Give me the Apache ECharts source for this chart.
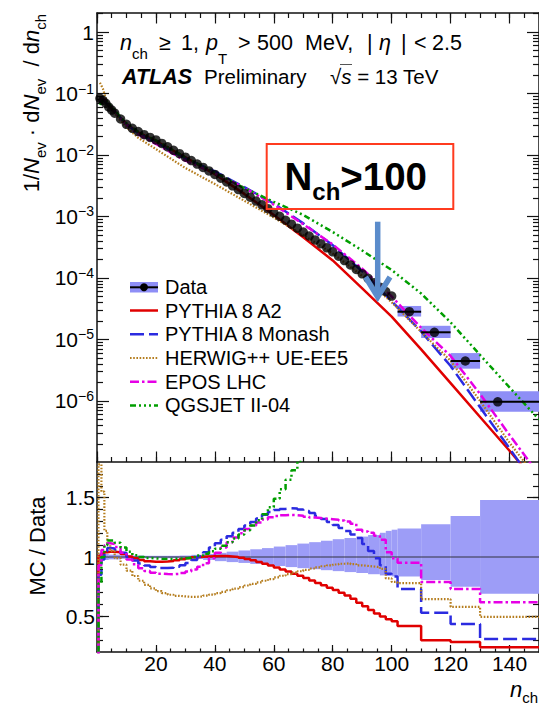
<!DOCTYPE html>
<html><head><meta charset="utf-8">
<script src="https://cdn.jsdelivr.net/npm/echarts@6/dist/echarts.min.js"></script>
<style>html,body{margin:0;padding:0;background:#fff}#c{width:539px;height:710px}</style>
</head><body><div id="c"></div>
<script>
const FONT = "'Liberation Sans', Arial, Helvetica, sans-serif";

// ---------------- DATA ----------------
// Data points (n_ch, 1/Nev dNev/dnch)
const dataN = [1,2,3,4,5,6,8,10,12,14,16,18,20,22,24,26,28,30,32,34,36,38,40,42,44,46,48,50,
  52,54,56,58,60,62,64,66,68,70,72,74,76,78,80,82,84,86,88,90,92,94,96,98,100,106,114.5,125,136];
const dataV = [0.0836,0.0776,0.0692,0.0603,0.0537,0.0479,0.0385,0.0316,0.0272,0.0240,0.0214,0.0193,0.0176,
  0.01545,0.01358,0.01194,0.0105,0.00923,0.00811,0.00713,0.00627,0.00551,0.00484,0.0042,0.00364,0.00316,
  0.00274,0.00237,0.00206,0.00178,0.00155,0.00134,0.00116,0.001007,8.69e-4,7.5e-4,6.47e-4,5.58e-4,4.82e-4,
  4.16e-4,3.59e-4,3.1e-4,2.67e-4,2.26e-4,1.92e-4,1.63e-4,1.38e-4,1.17e-4,9.89e-5,8.38e-5,7.1e-5,6.01e-5,
  5.09e-5,2.83e-5,1.31e-5,4.47e-6,9.7e-7];
// wide data bins (drawn with uncertainty boxes)
const boxN  = [106,114.5,125,136];
const boxLo = [102,110,120,130];
const boxHi = [110,120,130,150];

// MC predictions in the upper panel
const mcN = [1,2,3,4,6,8,10,14,20,30,40,50,60,70,80,90,100,110,120,130,140,150];
const mcA2     = [0.0843,0.080,0.0723,0.063,0.050,0.0396,0.0319,0.0234,0.01687,0.00914,0.00488,0.00233,0.00106,4.6e-4,1.93e-4,6.8e-5,2.35e-5,6.9e-6,1.95e-6,5.5e-7,1.55e-7,4.2e-8];
const mcMonash = [0.071,0.0776,0.0726,0.0647,0.0509,0.0396,0.0315,0.0225,0.0160,0.00877,0.0054,0.0030,0.00162,7.74e-4,3.4e-4,1.29e-4,4.2e-5,1.35e-5,3.7e-6,7.9e-7,1.7e-7,3.5e-8];
const mcHerwig = [0.15,0.12,0.083,0.0662,0.0479,0.0361,0.0282,0.019,0.01247,0.00614,0.00337,0.0018,9.6e-4,4.98e-4,2.5e-4,1.08e-4,4.03e-5,1.33e-5,4.5e-6,1.0e-6,2.1e-7,5e-8];
const mcEpos   = [0.0777,0.0822,0.076,0.0671,0.0521,0.0396,0.0308,0.0216,0.0151,0.00809,0.00501,0.00293,0.00156,7.48e-4,3.51e-4,1.42e-4,5.0e-5,1.55e-5,5.4e-6,1.3e-6,2.8e-7,6.3e-8];
const mcQgsjet = [0.0652,0.0776,0.0774,0.0687,0.0536,0.0411,0.0329,0.0239,0.0173,0.00916,0.00518,0.0029,0.00173,1.06e-3,5.6e-4,2.8e-4,1.35e-4,5.6e-5,1.9e-5,5.6e-6,1.66e-6,5.0e-7];

// Ratio panel: bin low edges (last entry closes the last bin)
const ratioX = [0.5,1.5,2.5,3.5,4.5,6,8,10,12,14,16,18,20,22,24,26,28,30,32,34,36,38,40,42,44,46,48,50,
  52,54,56,58,60,62,64,66,68,70,72,74,76,78,80,82,84,86,88,90,92,94,96,98,100,102,110,120,130,150];
const rA2 = [1.01,1.03,1.04,1.045,1.045,1.04,1.025,1.005,0.99,0.975,0.965,0.96,0.96,0.962,0.966,0.973,0.982,0.99,
  0.997,1.002,1.005,1.007,1.008,1.008,1.005,1.0,0.993,0.984,0.972,0.958,0.943,0.928,0.912,0.895,0.877,0.86,
  0.842,0.823,0.803,0.782,0.762,0.742,0.722,0.70,0.676,0.648,0.615,0.585,0.553,0.525,0.50,0.475,0.46,0.42,
  0.30,0.285,0.24,0.24];
const rMonash = [0.85,0.98,1.05,1.075,1.072,1.06,1.035,1.0,0.97,0.945,0.928,0.915,0.908,0.907,0.91,0.918,0.93,
  0.95,0.975,1.005,1.04,1.08,1.115,1.145,1.175,1.205,1.235,1.265,1.295,1.325,1.355,1.38,1.395,1.405,1.41,
  1.408,1.40,1.388,1.37,1.345,1.32,1.295,1.27,1.245,1.22,1.19,1.16,1.11,1.05,0.99,0.93,0.86,0.835,0.73,
  0.53,0.435,0.31,0.31];
const rHerwig = [1.78,1.55,1.22,1.12,1.05,0.99,0.935,0.885,0.84,0.80,0.765,0.735,0.712,0.695,0.682,0.673,0.668,
  0.665,0.665,0.668,0.675,0.684,0.695,0.707,0.72,0.733,0.746,0.76,0.773,0.786,0.80,0.814,0.828,0.842,0.855,
  0.868,0.88,0.892,0.903,0.913,0.922,0.93,0.937,0.943,0.947,0.94,0.93,0.925,0.92,0.915,0.90,0.82,0.79,0.78,
  0.645,0.58,0.495,0.495];
const rEpos = [0.93,1.06,1.10,1.115,1.11,1.085,1.035,0.98,0.94,0.905,0.883,0.868,0.86,0.856,0.855,0.858,0.865,
  0.877,0.895,0.918,0.948,0.99,1.035,1.08,1.125,1.165,1.20,1.235,1.265,1.29,1.315,1.335,1.345,1.352,1.354,
  1.352,1.347,1.34,1.333,1.328,1.323,1.318,1.313,1.307,1.30,1.28,1.23,1.215,1.205,1.18,1.145,1.04,0.99,0.952,
  0.79,0.73,0.62,0.62];
const rQgsjet = [0.78,1.0,1.10,1.14,1.14,1.12,1.08,1.045,1.015,1.0,0.992,0.988,0.985,0.984,0.984,0.985,0.988,
  0.993,1.0,1.012,1.028,1.048,1.07,1.095,1.125,1.155,1.19,1.225,1.265,1.31,1.36,1.42,1.49,1.57,1.65,1.73,
  1.81,1.9,2.0,2.1];

// Data uncertainty band (relative), bin edges
const bandX = [0.5,2,4,8,12,16,20,24,28,32,36,40,44,48,52,56,60,64,68,72,76,80,84,88,92,96,98,100,102,110,120,130,150];
const bandUp = [1.03,1.025,1.02,1.015,1.012,1.01,1.01,1.01,1.012,1.018,1.026,1.035,1.045,1.055,1.065,1.075,
  1.088,1.10,1.113,1.125,1.137,1.15,1.16,1.172,1.185,1.204,1.22,1.23,1.24,1.275,1.345,1.48];
const bandDn = [0.97,0.975,0.98,0.985,0.988,0.99,0.99,0.99,0.988,0.983,0.975,0.965,0.957,0.95,0.942,0.933,
  0.924,0.915,0.906,0.897,0.889,0.881,0.873,0.865,0.855,0.845,0.84,0.837,0.835,0.807,0.75,0.69];

// Tick labels
const xTickLabels = [20,40,60,80,100,120,140];
const xMajorTicks = [0,20,40,60,80,100,120,140];
const yTopExps = [-6,-5,-4,-3,-2,-1,0];
const ratioTickLabels = [0.5,1,1.5];
const legendNames = ['Data','PYTHIA 8 A2','PYTHIA 8 Monash','HERWIG++ UE-EE5','EPOS LHC','QGSJET II-04'];

// ---------------- STYLES ----------------
const C_RED='#e00000', C_BLUE='#2b2be0', C_BROWN='#b57d1e', C_MAG='#e600e6', C_GREEN='#009e00';
const BOX_COL='#8e8ef6', BAND_COL='#9d9df7';
const styles = [
  {color:C_RED, width:2.5, type:'solid'},
  {color:C_BLUE, width:2.5, type:[14,5]},
  {color:C_BROWN, width:2.2, type:[1.6,1.6]},
  {color:C_MAG, width:2.5, type:[9,3,2.5,3]},
  {color:C_GREEN, width:2.5, type:[6,3,2,3,2,3,2,3]}
];

const Y0MIN=-6.992, Y0MAX=0.309, RMIN=0.2, RMAX=1.8;
const LC='#111';

const xMinor=[]; for(let v=0; v<=150; v+=5) xMinor.push(v);
const yMinor=[]; for(let e=-7;e<=0;e++) for(let k=2;k<=9;k++){const v=e+Math.log10(k); if(v>Y0MIN&&v<Y0MAX) yMinor.push(v);}
const rMinor=[]; for(let k=3;k<=17;k++) rMinor.push(k/10);

const xAxis=[], yAxis=[];
function addX(g,pos,ticks,len,line,labels){
  xAxis.push({type:'value',gridIndex:g,position:pos,min:0,max:150,
    axisLine:{show:line,onZero:false,lineStyle:{color:LC,width:1.5}},
    axisTick:{show:true,inside:true,length:len,customValues:ticks,lineStyle:{color:LC,width:1.2}},
    axisLabel:labels?{show:true,customValues:labels,margin:1,fontSize:21,fontFamily:FONT,color:'#000'}:{show:false},
    splitLine:{show:false}});
}
function addY(g,pos,min,max,ticks,len,line,label){
  yAxis.push({type:'value',gridIndex:g,position:pos,min:min,max:max,
    axisLine:{show:line,onZero:false,lineStyle:{color:LC,width:1.5}},
    axisTick:{show:true,inside:true,length:len,customValues:ticks,lineStyle:{color:LC,width:1.2}},
    axisLabel:label||{show:false},splitLine:{show:false}});
}
addX(0,'bottom',xMajorTicks,10.5,true);
addX(0,'bottom',xMinor,5,false);
addX(0,'top',xMajorTicks,10.5,true);
addX(0,'top',xMinor,5,false);
addX(1,'bottom',xMajorTicks,7,true,xTickLabels);
addX(1,'bottom',xMinor,3.5,false);

addY(0,'left',Y0MIN,Y0MAX,yTopExps,12,true,{show:true,customValues:yTopExps,margin:3,fontSize:21,fontFamily:FONT,color:'#000',lineHeight:24,
  formatter:v=>{const k=Math.round(v); return k===0?'1':'10{sup|\u2212'+(-k)+'}';},
  rich:{sup:{fontSize:14,fontFamily:FONT,verticalAlign:'top',lineHeight:14,color:'#000'}}});
addY(0,'left',Y0MIN,Y0MAX,yMinor,6,false);
addY(0,'right',Y0MIN,Y0MAX,yTopExps,12,true);
addY(0,'right',Y0MIN,Y0MAX,yMinor,6,false);
addY(1,'left',RMIN,RMAX,ratioTickLabels,12,true,{show:true,customValues:ratioTickLabels,margin:2,fontSize:21,fontFamily:FONT,color:'#000',
  formatter:v=>String(v)});
addY(1,'left',RMIN,RMAX,rMinor,6,false);
addY(1,'right',RMIN,RMAX,ratioTickLabels,12,true);
addY(1,'right',RMIN,RMAX,rMinor,6,false);

// ---------------- SERIES ----------------
const L10=Math.log10;
function rectRender(fill){
  return function(params,api){
    const a=api.coord([api.value(0),api.value(2)]);
    const b=api.coord([api.value(1),api.value(3)]);
    const cs=params.coordSys;
    const r=echarts.graphic.clipRectByRect({x:a[0],y:a[1],width:b[0]-a[0],height:b[1]-a[1]},{x:cs.x,y:cs.y,width:cs.width,height:cs.height});
    if(!r) return;
    return {type:'rect',shape:r,style:{fill:fill}};
  };
}
const topBoxes = boxLo.map((lo,i)=>{
  const j=bandX.indexOf(lo); const v=dataV[dataN.indexOf(boxN[i])];
  return [lo,boxHi[i],L10(v*bandUp[j]),L10(v*bandDn[j]),L10(v)];
});
const series=[];
series.push({type:'custom',xAxisIndex:0,yAxisIndex:0,renderItem:rectRender(BOX_COL),data:topBoxes,encode:{x:[0,1],y:[2,3]},z:2,silent:true});
const mcTop=[mcA2,mcMonash,mcHerwig,mcEpos,mcQgsjet];
mcTop.forEach((arr,k)=>{
  series.push({type:'line',xAxisIndex:0,yAxisIndex:0,data:mcN.map((n,i)=>[n,L10(arr[i])]),smooth:false,
    showSymbol:false,symbol:'none',lineStyle:styles[k],z:3,silent:true,clip:true});
});
series.push({type:'scatter',xAxisIndex:0,yAxisIndex:0,data:dataN.map((n,i)=>[n,L10(dataV[i])]),symbol:'circle',symbolSize:9.5,
  itemStyle:{color:'#000'},z:5,silent:true});
series.push({type:'custom',xAxisIndex:0,yAxisIndex:0,data:topBoxes,encode:{x:[0,1],y:[4]},z:5,silent:true,
  renderItem:(params,api)=>{
    const cs=params.coordSys;
    const a=api.coord([api.value(0),api.value(4)]), b=api.coord([api.value(1),api.value(4)]);
    return {type:'line',shape:{x1:Math.max(a[0],cs.x),y1:a[1],x2:Math.min(b[0],cs.x+cs.width),y2:b[1]},style:{stroke:'#000',lineWidth:2}};
  }});
// ratio panel
series.push({type:'custom',xAxisIndex:4,yAxisIndex:4,renderItem:rectRender(BAND_COL),
  data:bandUp.map((u,i)=>[bandX[i],bandX[i+1],u,bandDn[i]]),encode:{x:[0,1],y:[2,3]},z:2,silent:true});
series.push({type:'line',xAxisIndex:4,yAxisIndex:4,data:[[0,1],[150,1]],showSymbol:false,symbol:'none',
  lineStyle:{color:'#333340',width:1.2},z:3,silent:true});
const rAll=[rA2,rMonash,rHerwig,rEpos,rQgsjet];
rAll.forEach((arr,k)=>{
  const d=[[ratioX[0],0]].concat(arr.map((v,i)=>[ratioX[i],v]));
  series.push({type:'line',xAxisIndex:4,yAxisIndex:4,data:d,step:'end',showSymbol:false,symbol:'none',
    lineStyle:styles[k],z:4,silent:true,clip:true});
});

// ---------------- GRAPHIC ----------------
const g=[];
const legY=[287,310.5,334.2,358,381.7,405.4];
g.push({type:'rect',shape:{x:130,y:282,width:28,height:10.5},style:{fill:BOX_COL}});
g.push({type:'line',shape:{x1:130,y1:287.3,x2:158,y2:287.3},style:{stroke:'#000',lineWidth:2}});
g.push({type:'circle',shape:{cx:144,cy:287.3,r:4},style:{fill:'#000'}});
styles.forEach((s,k)=>{
  g.push({type:'line',shape:{x1:130,y1:legY[k+1],x2:158,y2:legY[k+1]},
    style:{stroke:s.color,lineWidth:s.width,lineDash:s.type==='solid'?null:s.type}});
});
legendNames.forEach((t,k)=>{
  g.push({type:'text',x:165,y:legY[k],style:{text:t,fontSize:20,fontFamily:FONT,fill:'#000',align:'left',verticalAlign:'middle'}});
});
// header line 1 (pieces placed like the original's TLatex spacing)
const HF=21.5;
const hRich={i:{fontStyle:'italic',fontSize:HF,fontFamily:FONT,lineHeight:36},
  s:{fontSize:15,fontFamily:FONT,verticalAlign:'bottom',lineHeight:15},
  sT:{fontSize:15,fontFamily:FONT,verticalAlign:'bottom',lineHeight:15,padding:[0,0,-5,0]}};
function hText(x,y,t){
  g.push({type:'text',x:x,y:y,style:{text:t,fontSize:HF,fontFamily:FONT,fill:'#000',lineHeight:36,align:'left',verticalAlign:'middle',rich:hRich}});
}
hText(120,42.5,'{i|n}{s|ch}');
hText(159,42.5,'\u2265');
hText(181,42.5,'1,');
hText(206,42.5,'{i|p}{sT|T}');
hText(238,42.5,'>');
hText(257,42.5,'500');
hText(305,42.5,'MeV,');
hText(367,42.5,'|');
hText(379,42.5,'{i|\u03b7}');
hText(401,42.5,'|');
hText(414,42.5,'<');
hText(432,42.5,'2.5');
// header line 2
g.push({type:'text',x:122,y:76.5,style:{text:'ATLAS',fontSize:21.5,fontWeight:'bold',fontStyle:'italic',fontFamily:FONT,fill:'#000',align:'left',verticalAlign:'middle'}});
g.push({type:'text',x:204,y:76.5,style:{text:'Preliminary',fontSize:20.5,fontFamily:FONT,fill:'#000',align:'left',verticalAlign:'middle'}});
g.push({type:'text',x:330,y:76.5,style:{text:'\u221a{i|s} = 13 TeV',fontSize:20.5,fontFamily:FONT,fill:'#000',align:'left',verticalAlign:'middle',
  rich:{i:{fontStyle:'italic',fontSize:20.5,fontFamily:FONT}}}});
g.push({type:'line',shape:{x1:340,y1:64.5,x2:352,y2:64.5},style:{stroke:'#555',lineWidth:1}});
// N_ch > 100 box
g.push({type:'rect',shape:{x:266.7,y:144,width:186.6,height:65},style:{fill:null,stroke:'#ff3b1f',lineWidth:2}});
g.push({type:'text',x:284.5,y:176.5,style:{text:'{b|N}{s|ch}{b|>100}',fontSize:38.5,fontWeight:'bold',fontFamily:FONT,fill:'#000',
  lineHeight:53,align:'left',verticalAlign:'middle',
  rich:{b:{fontSize:38.5,fontWeight:'bold',fontFamily:FONT,lineHeight:53},s:{fontSize:24,fontWeight:'bold',fontFamily:FONT,verticalAlign:'bottom',lineHeight:24}}}});
// arrow
g.push({type:'line',shape:{x1:377.7,y1:221.7,x2:377.7,y2:295},style:{stroke:'#5b8ccb',lineWidth:5.5}});
g.push({type:'polyline',shape:{points:[[365.5,277],[377.7,297],[390,277]]},style:{stroke:'#5b8ccb',lineWidth:5.5,fill:null,lineJoin:'miter'}});
// axis titles
const titleRich={i:{fontStyle:'italic',fontSize:22,fontFamily:FONT,lineHeight:34},s:{fontSize:15,fontFamily:FONT,verticalAlign:'bottom',lineHeight:15}};
g.push({type:'text',x:31,y:14,rotation:Math.PI/2,style:{text:'1/{i|N}{s|ev} \u00b7 d{i|N}{s|ev}  / d{i|n}{s|ch}',fontSize:22,fontFamily:FONT,fill:'#000',
  lineHeight:34,align:'right',verticalAlign:'middle',rich:titleRich}});
g.push({type:'text',x:37,y:546,rotation:Math.PI/2,style:{text:'MC / Data',fontSize:22,fontFamily:FONT,fill:'#000',align:'center',verticalAlign:'middle'}});
g.push({type:'text',x:538,y:689,style:{text:'{i|n}{s|ch}',fontSize:22,fontFamily:FONT,fill:'#000',lineHeight:32,align:'right',verticalAlign:'middle',
  rich:{i:{fontStyle:'italic',fontSize:22,fontFamily:FONT,lineHeight:32},s:{fontSize:15,fontFamily:FONT,verticalAlign:'bottom',lineHeight:15}}}});

const option={
  animation:false,
  backgroundColor:'#fff',
  grid:[{left:97,top:13,width:442,height:449},{left:97,top:462,width:442,height:190}],
  xAxis:xAxis, yAxis:yAxis, series:series,
  graphic:{elements:g.map(e=>Object.assign({z:100,silent:true},e))}
};
const chart=echarts.init(document.getElementById('c'),null,{renderer:'svg',width:539,height:710});
chart.setOption(option);
</script></body></html>
